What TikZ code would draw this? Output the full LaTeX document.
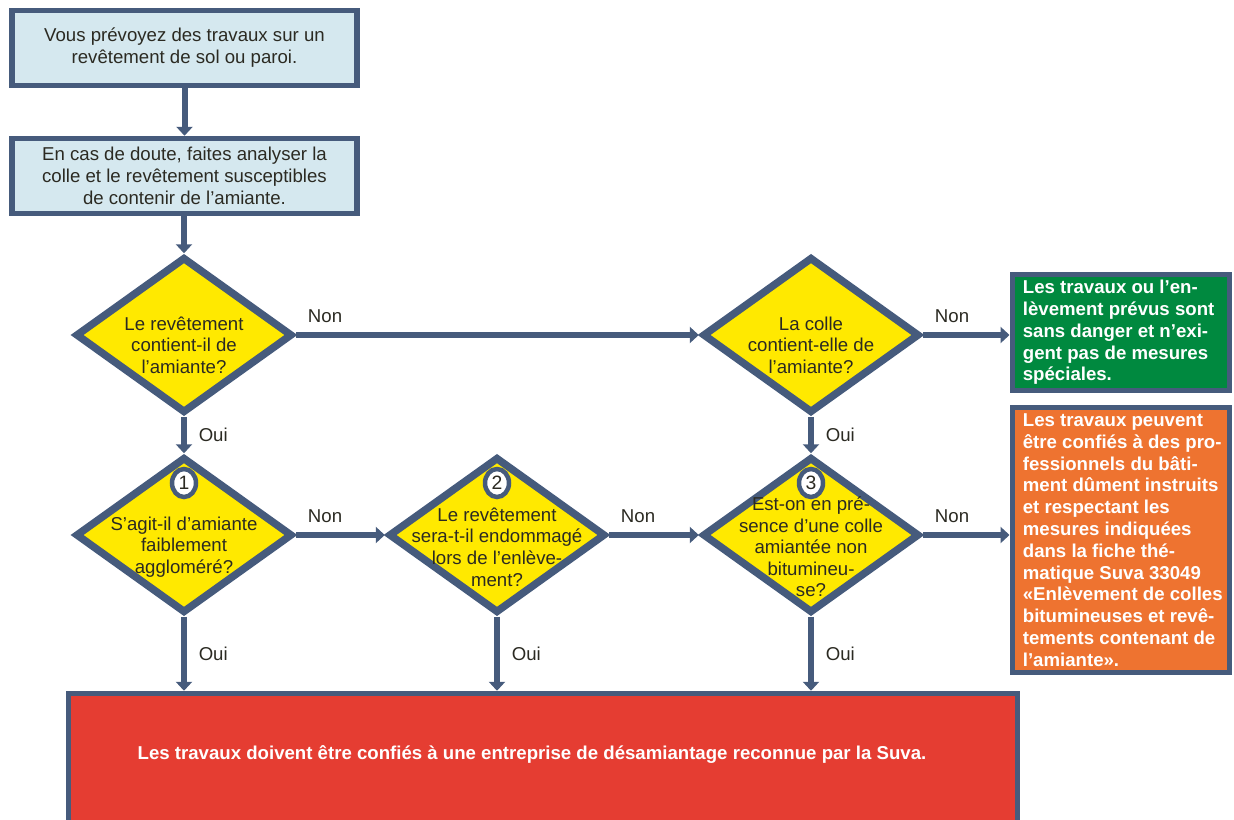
\documentclass[tikz,border=0pt]{standalone}
\usepackage{fontspec}
\setmainfont{Liberation Sans}
\usepackage{xcolor}
\usepackage{tikz}
\usetikzlibrary{shapes.geometric,arrows.meta}
\definecolor{frame}{HTML}{465B7C}
\definecolor{paleblue}{HTML}{D5E8EF}
\definecolor{signyellow}{HTML}{FFE900}
\definecolor{safegreen}{HTML}{00893F}
\definecolor{warnorange}{HTML}{EE7330}
\definecolor{alarmred}{HTML}{E53D32}
\definecolor{ink}{HTML}{2B2A22}
\tikzset{info node/.style={rectangle,fill=paleblue,draw=frame,line width=0.11cm,minimum width=6.9cm,minimum height=1.5cm,inner sep=0pt,align=center,text=ink,font=\fontsize{10.6}{12.5}\selectfont},}
\tikzset{ask node/.style={diamond,fill=signyellow,draw=frame,line width=0.15cm,minimum width=4.34cm,minimum height=3.12cm,inner sep=0pt},}
\tikzset{ask text/.style={align=center,text=ink,inner sep=0pt,font=\fontsize{10.6}{12.3}\selectfont},}
\tikzset{num node/.style={ellipse,fill=white,draw=frame,line width=0.09cm,minimum width=0.48cm,minimum height=0.56cm,inner sep=0pt,text=ink,font=\fontsize{11}{13}\selectfont},}
\tikzset{end node/.style={rectangle,draw=frame,line width=0.1cm,minimum width=4.36cm,inner sep=0pt},}
\tikzset{end text/.style={align=left,text=white,inner sep=0pt,anchor=west,font=\bfseries\fontsize{10.6}{12.4}\selectfont},}
\tikzset{answer/.style={text=ink,inner sep=1pt,font=\fontsize{10.6}{12}\selectfont},}
\tikzset{flow/.style={draw=frame,line width=0.12cm,-{Triangle[width=0.32cm,length=0.18cm]}},}

\begin{document}
\begin{tikzpicture}[x=0.02cm,y=-0.02cm]
       \useasboundingbox (0,0) rectangle (1234,819);
       \clip (0,0) rectangle (1234,819);

       \node[info node] (start) at (184.5,48) {Vous prévoyez des travaux sur un\\revêtement de sol ou paroi.};
       \node[info node] (analyse) at (184.5,176) {En cas de doute, faites analyser la\\colle et le revêtement susceptibles\\de contenir de l’amiante.};

       \node[ask node] (q1) at (184,335) {};
       \node[ask node] (q2) at (811,335) {};
       \node[ask node] (q3) at (184,535) {};
       \node[ask node] (q4) at (497,535) {};
       \node[ask node] (q5) at (811,535) {};

       \node[ask text] (q1txt) at (184,345) {Le revêtement\\contient-il de\\l’amiante?};
       \node[ask text] (q2txt) at (811,345) {La colle\\contient-elle de\\l’amiante?};
       \node[ask text] (q3txt) at (184,547) {S’agit-il d’amiante\\faiblement\\aggloméré?};
       \node[ask text] (q4txt) at (497,547) {Le revêtement\\sera-t-il endommagé\\lors de l’enlève-\\ment?};
       \node[ask text] (q5txt) at (811,547) {Est-on en pré-\\sence d’une colle\\amiantée non\\bitumineu-\\se?};

       \node[num node] (n1) at (184,483) {1};
       \node[num node] (n2) at (497,483) {2};
       \node[num node] (n3) at (811,483) {3};

       \node[end node,fill=safegreen,minimum height=2.32cm] (safe) at (1121,332.5) {};
       \node[end node,fill=warnorange,minimum height=5.32cm] (warn) at (1121,540) {};
       \node[end text] (safetxt) at ([xshift=0.26cm]safe.west) {Les travaux ou l’en-\\lèvement prévus sont\\sans danger et n’exi-\\gent pas de mesures\\spéciales.};
       \node[end text] (warntxt) at ([xshift=0.26cm]warn.west) {Les travaux peuvent\\être confiés à des pro-\\fessionnels du bâti-\\ment dûment instruits\\et respectant les\\mesures indiquées\\dans la fiche thé-\\matique Suva 33049\\«Enlèvement de colles\\bitumineuses et revê-\\tements contenant de\\l’amiante».};

       \node[end node,fill=alarmred,minimum width=19cm,minimum height=2.73cm] (firm) at (543,761.5) {};
       \node[end text,anchor=center] (firmtxt) at (532,755) {Les travaux doivent être confiés à une entreprise de désamiantage reconnue par la Suva.};

       \draw[flow] (start) -- (analyse);
       \draw[flow] (analyse.south -| q1.north) -- (q1);
       \draw[flow] (q1) -- node[answer,pos=0,anchor=south west,xshift=0.14cm,yshift=0.15cm] {Non} (q2);
       \draw[flow] (q2.east) -- node[answer,pos=0,anchor=south west,xshift=0.14cm,yshift=0.15cm] {Non} (q2.east -| safe.west);
       \draw[flow] (q1) -- node[answer,midway,right=0.2cm] {Oui} (q3);
       \draw[flow] (q2) -- node[answer,midway,right=0.2cm] {Oui} (q5);
       \draw[flow] (q3) -- node[answer,pos=0,anchor=south west,xshift=0.14cm,yshift=0.15cm] {Non} (q4);
       \draw[flow] (q4) -- node[answer,pos=0,anchor=south west,xshift=0.14cm,yshift=0.15cm] {Non} (q5);
       \draw[flow] (q5.east) -- node[answer,pos=0,anchor=south west,xshift=0.14cm,yshift=0.15cm] {Non} (q5.east -| warn.west);
       \draw[flow] (q3.south) -- node[answer,midway,right=0.2cm] {Oui} (q3.south |- firm.north);
       \draw[flow] (q4.south) -- node[answer,midway,right=0.2cm] {Oui} (q4.south |- firm.north);
       \draw[flow] (q5.south) -- node[answer,midway,right=0.2cm] {Oui} (q5.south |- firm.north);
\end{tikzpicture}
\end{document}
